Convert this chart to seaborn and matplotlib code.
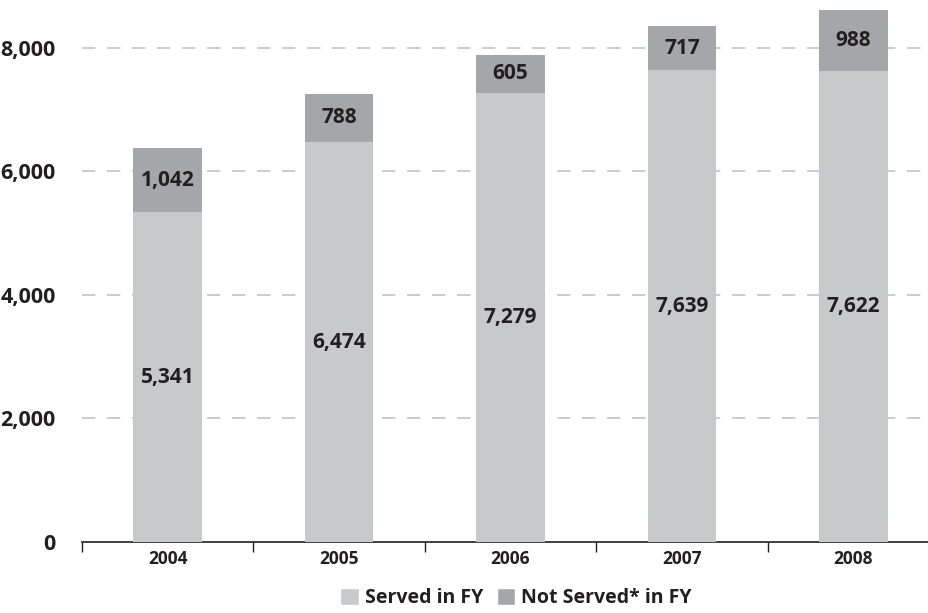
import matplotlib
matplotlib.use("Agg")
import matplotlib.pyplot as plt
import seaborn as sns
import pandas as pd
from matplotlib.ticker import FixedLocator, FuncFormatter
from matplotlib.patches import Patch

years = ["2004", "2005", "2006", "2007", "2008"]
served = [5341, 6474, 7279, 7639, 7622]
not_served = [1042, 788, 605, 717, 988]

served_color = "#c8c9cb"
not_served_color = "#a5a6a9"
text_color = "#231f20"

sns.set_theme(style="white")
plt.rcParams["font.family"] = ["Open Sans", "DejaVu Sans"]
plt.rcParams["font.weight"] = "bold"

df = pd.DataFrame({
    "year": years,
    "served": served,
    "not_served": not_served,
})
df["total"] = df["served"] + df["not_served"]

fig = plt.figure(figsize=(9.29, 6.13), dpi=100)
ax = fig.add_axes([82 / 929, 71 / 613, 857 / 929, 542 / 613])

# stacked bars: total first (dark top segment), served drawn over it
sns.barplot(data=df, x="year", y="total", color=not_served_color,
            width=0.4, ax=ax, saturation=1, zorder=2, linewidth=0)
sns.barplot(data=df, x="year", y="served", color=served_color,
            width=0.4, ax=ax, saturation=1, zorder=3, linewidth=0)

ax.set_xlim(-0.5, 4.5)
ax.set_ylim(0, 8777)

# value labels centred in each segment
for i, (s, n) in enumerate(zip(served, not_served)):
    ax.text(i, s / 2, f"{s:,}", ha="center", va="center", fontsize=15,
            fontweight="bold", color=text_color, zorder=5)
    ax.text(i, s + n / 2, f"{n:,}", ha="center", va="center", fontsize=15,
            fontweight="bold", color=text_color, zorder=5)

# dashed horizontal gridlines
for yv in [2000, 4000, 6000, 8000]:
    ax.axhline(yv, color="#c4c4c6", linewidth=1.2, linestyle=(0, (8, 7)),
               zorder=1)

ax.set_yticks([0, 2000, 4000, 6000, 8000])
ax.yaxis.set_major_formatter(FuncFormatter(lambda v, p: f"{int(v):,}"))
ax.tick_params(axis="y", length=0, pad=19, labelsize=15.5, labelcolor=text_color)
for lbl in ax.get_yticklabels():
    lbl.set_fontweight("bold")

ax.tick_params(axis="x", which="major", length=0, pad=6, labelsize=12.5,
               labelcolor=text_color)
ax.xaxis.set_minor_locator(FixedLocator([-0.5, 0.5, 1.5, 2.5, 3.5, 4.5]))
ax.tick_params(axis="x", which="minor", length=7, width=1, color="#231f20",
               direction="out", bottom=True)
for lbl in ax.get_xticklabels():
    lbl.set_fontweight("bold")

ax.set_xlabel("")
ax.set_ylabel("")
for side in ["left", "right", "top"]:
    ax.spines[side].set_visible(False)
ax.spines["bottom"].set_color("#231f20")
ax.spines["bottom"].set_linewidth(1.2)

handles = [Patch(facecolor=served_color, label="Served in FY"),
           Patch(facecolor=not_served_color, label="Not Served* in FY")]
fig.legend(handles=handles, loc="center", bbox_to_anchor=(516 / 929, 1 - 598 / 613),
           ncol=2, frameon=False, prop={"size": 14, "weight": "bold"},
           handlelength=0.95, handleheight=0.95, handletextpad=0.3,
           columnspacing=0.7, labelcolor=text_color)

fig.savefig("out.png", dpi=100)
